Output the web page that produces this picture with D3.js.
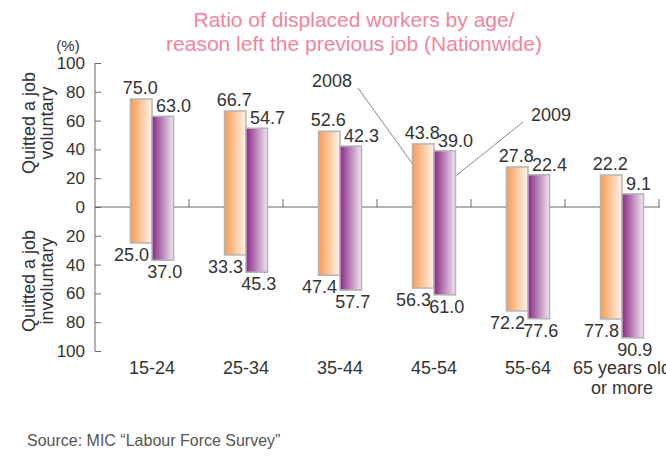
<!DOCTYPE html>
<html>
<head>
<meta charset="utf-8">
<script src="https://cdn.jsdelivr.net/npm/d3@7"></script>
<style>
  body { margin: 0; background: #fff; }
  text { font-family: "Liberation Sans", Arial, sans-serif; }
</style>
</head>
<body>
<div id="chart"></div>
<script>
// data
var ageGroups = ["15-24", "25-34", "35-44", "45-54", "55-64", "65 years old|or more"];
var voluntary2008 = [75.0, 66.7, 52.6, 43.8, 27.8, 22.2];
var voluntary2009 = [63.0, 54.7, 42.3, 39.0, 22.4, 9.1];
var involuntary2008 = [25.0, 33.3, 47.4, 56.3, 72.2, 77.8];
var involuntary2009 = [37.0, 45.3, 57.7, 61.0, 77.6, 90.9];
var yTicks = [-100, -80, -60, -40, -20, 0, 20, 40, 60, 80, 100];

var svgWidth = 666;
var svgHeight = 456;

var svg = d3.select("#chart")
  .append("svg")
    .attr("width", svgWidth)
    .attr("height", svgHeight);

var defs = svg.append("defs");
function addGradient(id, dark, light) {
  var g = defs.append("linearGradient").attr("id", id)
    .attr("x1", "0%").attr("x2", "100%").attr("y1", "0%").attr("y2", "0%");
  g.append("stop").attr("offset", "0%").attr("stop-color", dark);
  g.append("stop").attr("offset", "100%").attr("stop-color", light);
}
addGradient("grad2008", "#f99b52", "#fff4ea");
addGradient("grad2009", "#8a2888", "#f1e6f2");

// scales
var x = d3.scaleBand().domain(ageGroups).range([95, 659]).padding(0);
var y = d3.scaleLinear().domain([-100, 100]).range([351, 63]);
var barW = 21.5;
var barOffset = x.bandwidth() / 2 - barW + 10;

// title
var title = svg.append("text")
  .attr("text-anchor", "middle")
  .attr("fill", "#f2849b")
  .style("font-size", "21px");
title.append("tspan").attr("x", 354).attr("y", 27).text("Ratio of displaced workers by age/");
title.append("tspan").attr("x", 354).attr("y", 51).text("reason left the previous job (Nationwide)");

// y axis
var yAxis = d3.axisLeft(y)
  .tickValues(yTicks)
  .tickSize(-6)
  .tickPadding(10)
  .tickFormat(function(d) { return Math.abs(d); });

var gy = svg.append("g")
  .attr("transform", "translate(95,0)")
  .call(yAxis);
gy.select(".domain").attr("stroke", "#666").attr("d", "M0," + y(100) + "V" + y(-100));
gy.selectAll(".tick line").attr("stroke", "#666");
gy.selectAll(".tick text")
  .attr("fill", "#333")
  .style("font-size", "17px")
  .style("font-family", "Liberation Sans, Arial, sans-serif");

svg.append("text")
  .attr("x", 68)
  .attr("y", 51)
  .attr("text-anchor", "middle")
  .attr("fill", "#333")
  .style("font-size", "15px")
  .text("(%)");

// y axis titles
function sideTitle(lines, cy) {
  var t = svg.append("text")
    .attr("transform", "translate(0," + cy + ") rotate(-90)")
    .attr("text-anchor", "middle")
    .attr("fill", "#333")
    .style("font-size", "18px");
  t.append("tspan").attr("x", 0).attr("y", 35).text(lines[0]);
  t.append("tspan").attr("x", 0).attr("y", 53).text(lines[1]);
}
sideTitle(["Quitted a job", "voluntary"], 123);
sideTitle(["Quitted a job", "involuntary"], 281);

// zero line and category ticks
svg.append("line")
  .attr("x1", 95).attr("x2", 660)
  .attr("y1", y(0)).attr("y2", y(0))
  .attr("stroke", "#666");
svg.selectAll(".cat-tick")
  .data(ageGroups)
  .enter().append("line")
  .attr("class", "cat-tick")
  .attr("x1", function(d) { return x(d) + x.bandwidth(); })
  .attr("x2", function(d) { return x(d) + x.bandwidth(); })
  .attr("y1", y(0) - 8)
  .attr("y2", y(0))
  .attr("stroke", "#666");

// bars
var series = [
  { key: "2008", up: voluntary2008, down: involuntary2008, fill: "url(#grad2008)", dx: 0 },
  { key: "2009", up: voluntary2009, down: involuntary2009, fill: "url(#grad2009)", dx: barW }
];

series.forEach(function(s) {
  var g = svg.append("g");
  ageGroups.forEach(function(cat, i) {
    var bx = x(cat) + barOffset + s.dx;
    g.append("rect")
      .attr("x", bx)
      .attr("y", y(s.up[i]))
      .attr("width", barW)
      .attr("height", y(-s.down[i]) - y(s.up[i]))
      .attr("fill", s.fill)
      .attr("stroke", "#b4b4b4")
      .attr("stroke-width", 1.5);
  });
});

// value labels
var labels = svg.append("g")
  .attr("fill", "#333")
  .style("font-size", "18px");

ageGroups.forEach(function(cat, i) {
  var ox = x(cat) + barOffset;
  var px = ox + barW;
  labels.append("text")
    .attr("x", ox + barW / 2 - 1)
    .attr("y", y(voluntary2008[i]) - 5)
    .attr("text-anchor", "middle")
    .text(voluntary2008[i].toFixed(1));
  labels.append("text")
    .attr("x", px + 4)
    .attr("y", y(voluntary2009[i]) - 4)
    .attr("text-anchor", "start")
    .text(voluntary2009[i].toFixed(1));
  labels.append("text")
    .attr("x", ox + barW - 3)
    .attr("y", y(-involuntary2008[i]) + 18)
    .attr("text-anchor", "end")
    .text(involuntary2008[i].toFixed(1));
  labels.append("text")
    .attr("x", px + barW / 2 + 2)
    .attr("y", y(-involuntary2009[i]) + 18)
    .attr("text-anchor", "middle")
    .text(involuntary2009[i].toFixed(1));
});

// category labels
ageGroups.forEach(function(cat) {
  var cx = x(cat) + barOffset + barW;
  var t = svg.append("text")
    .attr("text-anchor", "middle")
    .attr("fill", "#333")
    .style("font-size", "18px");
  cat.split("|").forEach(function(line, k) {
    t.append("tspan").attr("x", cx).attr("y", 374 + k * 20).text(line);
  });
});

// legend callouts pointing at the 45-54 bars
var legCat = ageGroups[3];
var lx = x(legCat) + barOffset;
svg.append("line")
  .attr("x1", 358).attr("y1", 88)
  .attr("x2", lx).attr("y2", y(30))
  .attr("stroke", "#888");
svg.append("text")
  .attr("x", 312).attr("y", 87)
  .attr("fill", "#333")
  .style("font-size", "18px")
  .text("2008");
svg.append("line")
  .attr("x1", 523).attr("y1", 122)
  .attr("x2", lx + 2 * barW + 1).attr("y2", y(22))
  .attr("stroke", "#888");
svg.append("text")
  .attr("x", 531).attr("y", 121)
  .attr("fill", "#333")
  .style("font-size", "18px")
  .text("2009");

// source
svg.append("text")
  .attr("x", 27)
  .attr("y", 446)
  .attr("fill", "#555")
  .style("font-size", "16px")
  .text("Source: MIC \u201cLabour Force Survey\u201d");
</script>
</body>
</html>
